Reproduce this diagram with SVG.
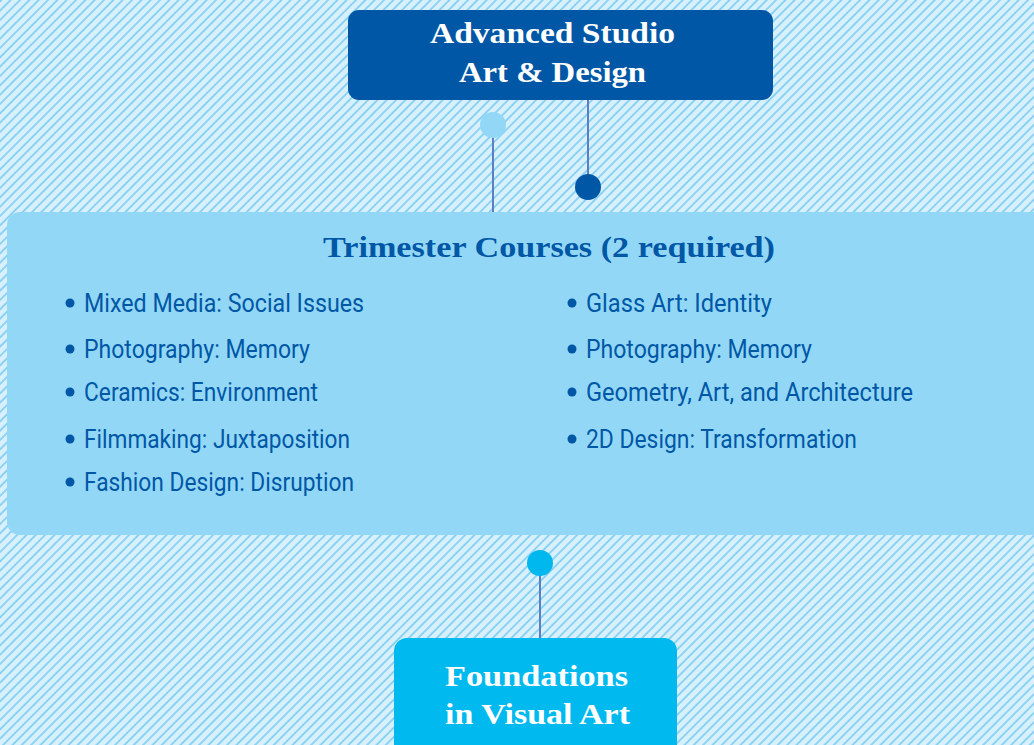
<svg xmlns="http://www.w3.org/2000/svg" width="1034" height="745" viewBox="0 0 1034 745">
<defs>
<pattern id="hatch" patternUnits="userSpaceOnUse" width="6.6" height="6.6" patternTransform="rotate(45)">
<rect width="6.6" height="6.6" fill="#d7f0fb"/>
<line x1="1" y1="0" x2="1" y2="6.6" stroke="#84d0f3" stroke-width="1.8"/>
</pattern>
</defs>
<style>
.head{font-family:"Liberation Serif","DejaVu Serif",serif;font-weight:bold;fill:#ffffff;font-size:30px;}
.title{font-family:"Liberation Serif","DejaVu Serif",serif;font-weight:bold;fill:#0057a6;font-size:30px;}
.item{font-family:Roboto,"Liberation Sans",sans-serif;font-weight:normal;fill:#0057a6;font-size:26px;}
.bullet{fill:#0057a6;}
.conn{stroke:#5b7fc1;stroke-width:2;fill:none;}
</style>
<rect x="0" y="0" width="1034" height="745" fill="url(#hatch)"/>
<g id="connectors">
<line class="conn" x1="493" y1="125" x2="493" y2="212"/>
<line class="conn" x1="588" y1="100" x2="588" y2="187"/>
<line class="conn" x1="540" y1="563" x2="540" y2="639"/>
<circle cx="493" cy="125" r="13" fill="#93d7f6"/>
<circle cx="588" cy="187" r="13" fill="#0057a6"/>
<circle cx="540" cy="563" r="13" fill="#00b8ee"/>
</g>
<g id="advanced">
<rect x="348" y="10" width="425" height="90" rx="11" fill="#0057a6"/>
<text class="head" x="430" y="43" textLength="245" lengthAdjust="spacingAndGlyphs">Advanced Studio</text>
<text class="head" x="459" y="82" textLength="187" lengthAdjust="spacingAndGlyphs">Art &amp; Design</text>
</g>
<g id="trimester">
<rect x="7" y="212" width="1050" height="323" rx="13" fill="#93d7f6"/>
<text class="title" x="323" y="257" textLength="452" lengthAdjust="spacingAndGlyphs">Trimester Courses (2 required)</text>
<circle class="bullet" cx="70" cy="303" r="4.5"/>
<text class="item" x="84" y="312" textLength="280" lengthAdjust="spacingAndGlyphs">Mixed Media: Social Issues</text>
<circle class="bullet" cx="70" cy="349" r="4.5"/>
<text class="item" x="84" y="358" textLength="226" lengthAdjust="spacingAndGlyphs">Photography: Memory</text>
<circle class="bullet" cx="70" cy="392" r="4.5"/>
<text class="item" x="84" y="401" textLength="234" lengthAdjust="spacingAndGlyphs">Ceramics: Environment</text>
<circle class="bullet" cx="70" cy="439" r="4.5"/>
<text class="item" x="84" y="448" textLength="266" lengthAdjust="spacingAndGlyphs">Filmmaking: Juxtaposition</text>
<circle class="bullet" cx="70" cy="482" r="4.5"/>
<text class="item" x="84" y="491" textLength="270" lengthAdjust="spacingAndGlyphs">Fashion Design: Disruption</text>
<circle class="bullet" cx="572" cy="303" r="4.5"/>
<text class="item" x="586" y="312" textLength="186" lengthAdjust="spacingAndGlyphs">Glass Art: Identity</text>
<circle class="bullet" cx="572" cy="349" r="4.5"/>
<text class="item" x="586" y="358" textLength="226" lengthAdjust="spacingAndGlyphs">Photography: Memory</text>
<circle class="bullet" cx="572" cy="392" r="4.5"/>
<text class="item" x="586" y="401" textLength="327" lengthAdjust="spacingAndGlyphs">Geometry, Art, and Architecture</text>
<circle class="bullet" cx="572" cy="439" r="4.5"/>
<text class="item" x="586" y="448" textLength="271" lengthAdjust="spacingAndGlyphs">2D Design: Transformation</text>
</g>
<g id="foundations">
<rect x="394" y="638" width="283" height="130" rx="13" fill="#00b9ef"/>
<text class="head" x="445" y="686" textLength="183" lengthAdjust="spacingAndGlyphs">Foundations</text>
<text class="head" x="445" y="724" textLength="185" lengthAdjust="spacingAndGlyphs">in Visual Art</text>
</g>
</svg>
